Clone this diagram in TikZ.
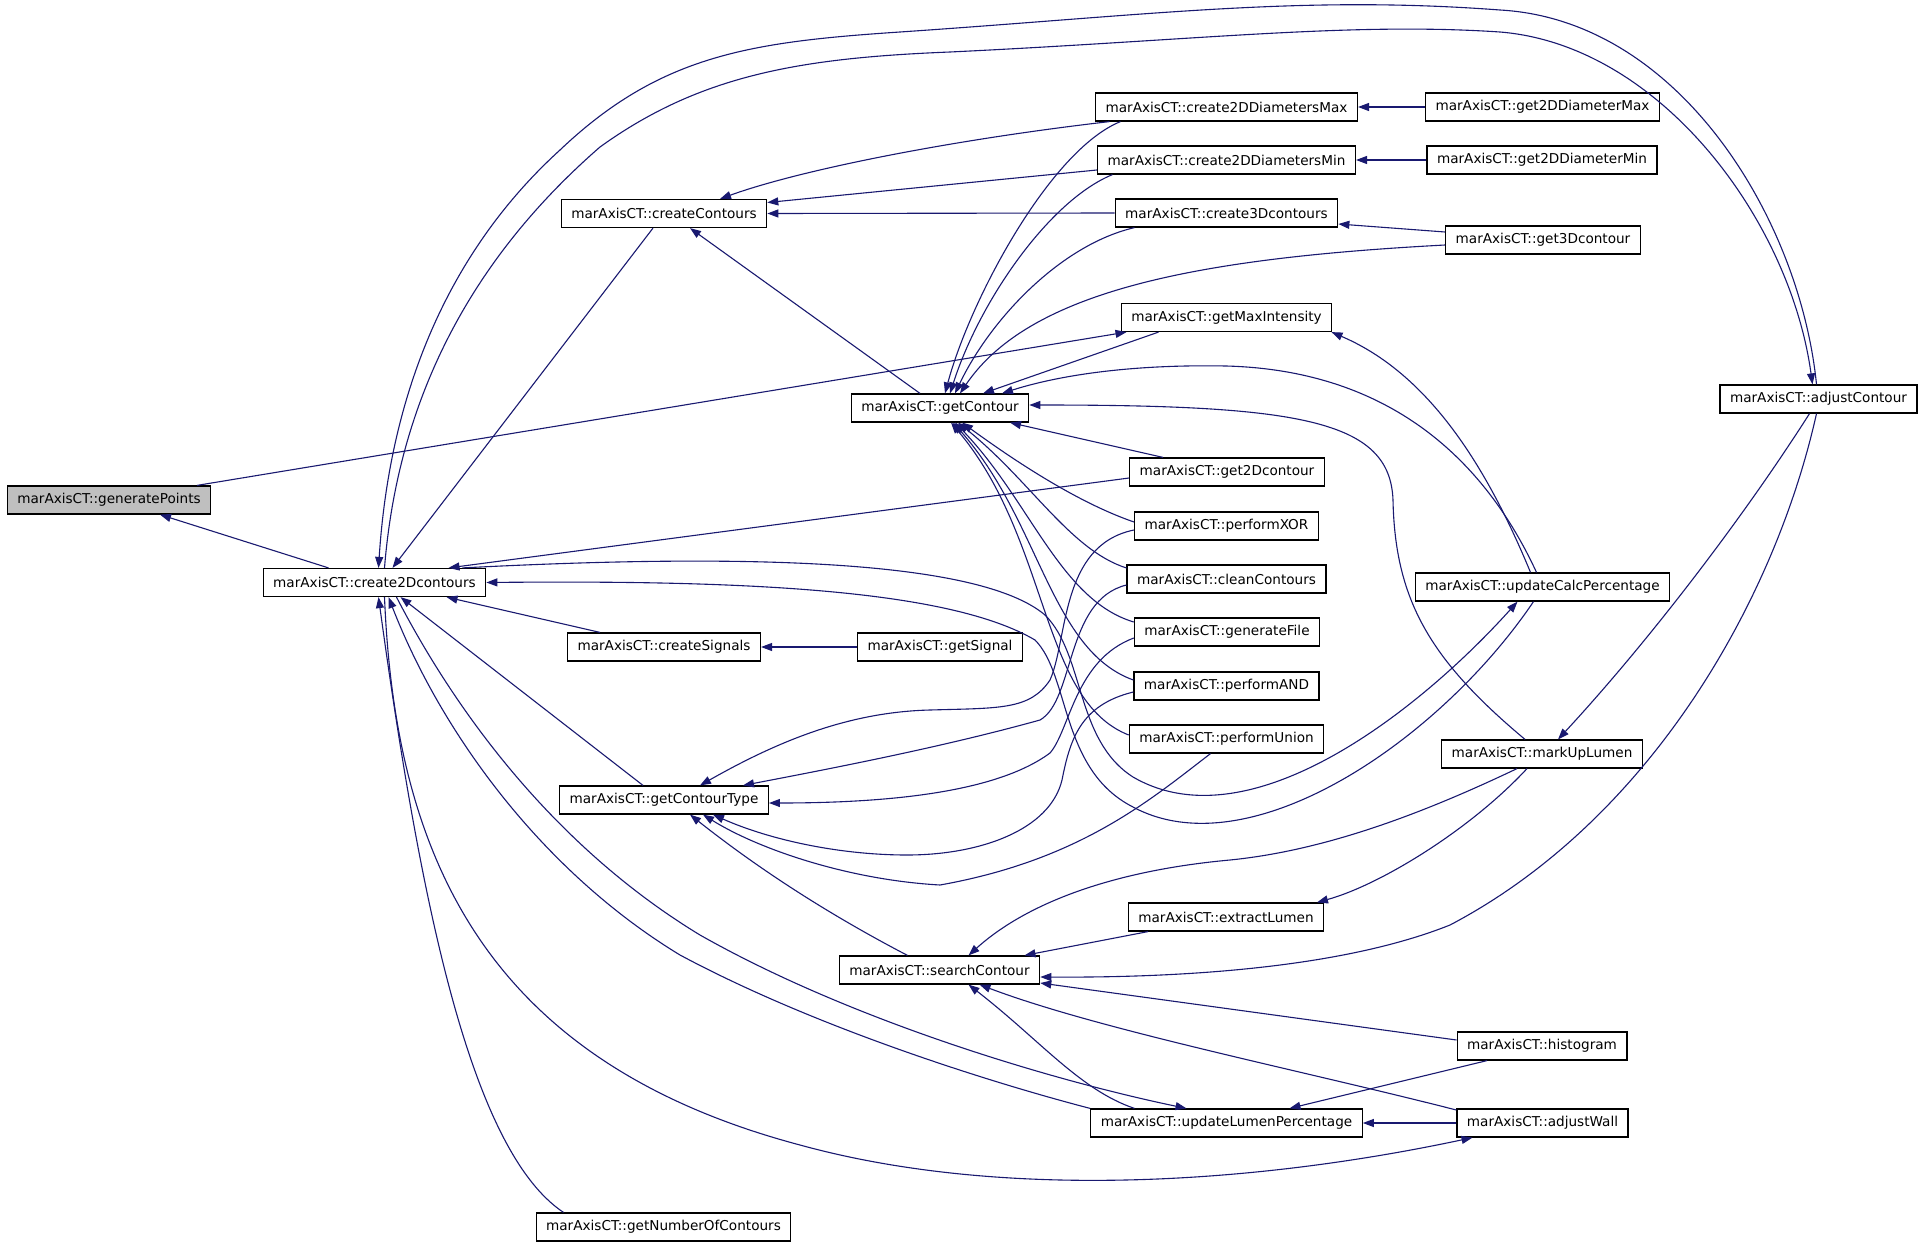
\documentclass[tikz,border=0pt]{standalone}
\usepackage{fontspec}
\setmainfont{DejaVu Sans}
\usetikzlibrary{arrows.meta}
\definecolor{edgeblue}{HTML}{191970}
\definecolor{rootgray}{HTML}{BFBFBF}

\begin{document}
\begin{tikzpicture}[x=1pt,y=-1pt,
  fn/.style={draw=black,line width=1.2pt,fill=white,minimum height=28pt,
    inner xsep=10pt,inner ysep=0pt,font=\fontsize{13.6}{16}\selectfont},
  root/.style={fn,fill=rootgray},
  call/.style={->,draw=edgeblue,line width=1.1pt,>={Triangle[length=11pt,width=8pt]}}]
  \fill[white] (0,0) rectangle (1923,1247);
  \useasboundingbox (0,0) rectangle (1923,1247);

  \node[root] (GP) at (109,500) {marAxisCT::generatePoints};
  \node[fn] (C2D) at (374.5,582.5) {marAxisCT::create2Dcontours};
  \node[fn] (CC) at (664,213.5) {marAxisCT::createContours};
  \node[fn] (CS) at (664,647) {marAxisCT::createSignals};
  \node[fn] (GCT) at (664,800) {marAxisCT::getContourType};
  \node[fn] (GNC) at (663.5,1227) {marAxisCT::getNumberOfContours};
  \node[fn] (GC) at (940,408) {marAxisCT::getContour};
  \node[fn] (GS) at (940,647) {marAxisCT::getSignal};
  \node[fn] (SC) at (939.5,970) {marAxisCT::searchContour};
  \node[fn] (C2DMAX) at (1226.5,107) {marAxisCT::create2DDiametersMax};
  \node[fn] (C2DMIN) at (1226.5,160) {marAxisCT::create2DDiametersMin};
  \node[fn] (C3D) at (1226.5,213) {marAxisCT::create3Dcontours};
  \node[fn] (GMI) at (1226.5,317.5) {marAxisCT::getMaxIntensity};
  \node[fn] (G2D) at (1227,472) {marAxisCT::get2Dcontour};
  \node[fn] (XOR) at (1226.5,526) {marAxisCT::performXOR};
  \node[fn] (CLEAN) at (1226.5,579) {marAxisCT::cleanContours};
  \node[fn] (GF) at (1227,632) {marAxisCT::generateFile};
  \node[fn] (AND) at (1226.5,686) {marAxisCT::performAND};
  \node[fn] (UNION) at (1226.5,739) {marAxisCT::performUnion};
  \node[fn] (EXL) at (1226,917) {marAxisCT::extractLumen};
  \node[fn] (ULP) at (1226.5,1123) {marAxisCT::updateLumenPercentage};
  \node[fn] (G2DMAX) at (1542.5,107) {marAxisCT::get2DDiameterMax};
  \node[fn] (G2DMIN) at (1542,160) {marAxisCT::get2DDiameterMin};
  \node[fn] (G3D) at (1543,240) {marAxisCT::get3Dcontour};
  \node[fn] (UCP) at (1542.5,587) {marAxisCT::updateCalcPercentage};
  \node[fn] (MUL) at (1542,754) {marAxisCT::markUpLumen};
  \node[fn] (HIST) at (1542,1046) {marAxisCT::histogram};
  \node[fn] (AW) at (1542.5,1123) {marAxisCT::adjustWall};
  \node[fn] (AC) at (1818.5,399) {marAxisCT::adjustContour};

  \draw[call] ([xshift=-46]C2D.north) -- ([xshift=51]GP.south);
  \draw[call] ([xshift=88]GP.north) -- ([xshift=-100]GMI.south);
  \draw[call] ([xshift=-11]CC.south) -- ([xshift=18]C2D.north);
  \draw[call] ([xshift=-2]AC.north) .. controls (1800,220) and (1680,20) .. (1500,10)
    .. controls (1300,-5) and (1150,15) .. (900,32) .. controls (750,42) and (660,55) .. (560,150)
    .. controls (450,250) and (390,390) .. ([xshift=4]C2D.north);
  \draw[call] ([xshift=10]C2D.north) .. controls (398,400) and (470,260) .. (600,147)
    .. controls (700,75) and (800,58) .. (950,52) .. controls (1200,40) and (1350,22) .. (1500,32)
    .. controls (1660,45) and (1790,220) .. ([xshift=-6]AC.north);
  \draw[call] ([yshift=-6]G2D.west) -- ([xshift=74]C2D.north);
  \draw[call] ([xshift=88]C2D.north) .. controls (750,553) and (980,560) .. (1045,615)
    .. controls (1085,655) and (1075,740) .. (1133,777) .. controls (1250,845) and (1420,710) .. ([xshift=-25]UCP.south);
  \draw[call] ([xshift=-9]UCP.south) .. controls (1440,740) and (1250,870) .. (1133,807)
    .. controls (1060,770) and (1070,675) .. (1035,640) .. controls (950,590) and (750,580) .. (C2D.east);
  \draw[call] ([xshift=-64]CS.north) -- ([xshift=72]C2D.south);
  \draw[call] (GS.west) -- (CS.east);
  \draw[call] ([xshift=-21]GCT.north) -- ([xshift=26]C2D.south);
  \draw[call] ([xshift=-100]GNC.north) .. controls (470,1150) and (420,900) .. ([xshift=4]C2D.south);
  \draw[call] ([xshift=10]C2D.south) .. controls (395,850) and (480,1060) .. (800,1145)
    .. controls (1000,1200) and (1250,1185) .. ([xshift=-70]AW.south);
  \draw[call] (ULP.north west) .. controls (1000,1085) and (820,1030) .. (680,955)
    .. controls (540,870) and (440,730) .. ([xshift=14]C2D.south);
  \draw[call] ([xshift=22]C2D.south) .. controls (460,720) and (560,850) .. (700,935)
    .. controls (850,1020) and (1050,1080) .. ([xshift=-40]ULP.north);

  \draw[call] ([xshift=-117]C2DMAX.south) .. controls (950,140) and (800,170) .. ([xshift=56]CC.north);
  \draw[call] ([yshift=-10]C2DMIN.west) -- ([yshift=11]CC.east);
  \draw[call] (C3D.west) -- (CC.east);
  \draw[call] ([xshift=-20]GC.north) -- ([xshift=26]CC.south);

  \draw[call] ([xshift=-106]C2DMAX.south) .. controls (1050,150) and (970,300) .. ([xshift=5]GC.north);
  \draw[call] ([xshift=-114]C2DMIN.south) .. controls (1050,200) and (980,300) .. ([xshift=10]GC.north);
  \draw[call] ([xshift=-92]C3D.south) .. controls (1060,245) and (990,320) .. ([xshift=15]GC.north);
  \draw[call] ([yshift=-5]G3D.west) .. controls (1200,258) and (1030,290) .. ([xshift=20]GC.north);
  \draw[call] ([xshift=-68]GMI.south) -- ([xshift=43]GC.north);
  \draw[call] ([xshift=-6]UCP.north) .. controls (1480,450) and (1380,370) .. (1226,366)
    .. controls (1120,364) and (1050,378) .. ([xshift=62]GC.north);
  \draw[call] ([xshift=-17]MUL.north) .. controls (1430,660) and (1395,600) .. (1393,500)
    .. controls (1390,420) and (1300,405) .. ([yshift=3]GC.east);
  \draw[call] ([xshift=-64]G2D.north) -- ([xshift=70]GC.south);
  \draw[call] ([yshift=4]XOR.west) .. controls (1070,500) and (1000,450) .. ([xshift=22]GC.south);
  \draw[call] ([yshift=11]CLEAN.west) .. controls (1070,550) and (1030,480) .. ([xshift=18]GC.south);
  \draw[call] ([yshift=10]GF.west) .. controls (1060,600) and (1030,500) .. ([xshift=15]GC.south);
  \draw[call] ([yshift=6]AND.west) .. controls (1050,650) and (1040,520) .. ([xshift=13]GC.south);
  \draw[call] ([yshift=4]UNION.west) .. controls (1040,700) and (1050,540) .. ([xshift=11]GC.south);

  \draw[call] ([yshift=-4]XOR.west) .. controls (1060,545) and (1068,640) .. (1050,680)
    .. controls (1030,710) and (1000,708) .. (930,710) .. controls (850,712) and (780,740) .. ([xshift=36]GCT.north);
  \draw[call] ([yshift=-6]CLEAN.west) .. controls (1065,600) and (1075,700) .. (1040,720)
    .. controls (950,745) and (850,765) .. ([xshift=79]GCT.north);
  \draw[call] ([yshift=-6]GF.west) .. controls (1075,660) and (1070,730) .. (1050,753)
    .. controls (1000,790) and (900,803) .. ([yshift=-3]GCT.east);
  \draw[call] ([yshift=-6]AND.west) .. controls (1080,705) and (1070,740) .. (1062,780)
    .. controls (1050,830) and (980,855) .. (907,855) .. controls (840,855) and (770,840) .. ([xshift=49]GCT.south);
  \draw[call] ([xshift=-16]UNION.south) .. controls (1150,800) and (1080,860) .. (940,885)
    .. controls (850,880) and (760,850) .. ([xshift=39]GCT.south);
  \draw[call] ([xshift=-32]SC.north) .. controls (830,915) and (760,870) .. ([xshift=26]GCT.south);

  \draw[call] ([xshift=-25]MUL.south) .. controls (1430,810) and (1330,850) .. (1230,860)
    .. controls (1120,870) and (1030,900) .. ([xshift=29]SC.north);
  \draw[call] ([xshift=-78]EXL.south) -- ([xshift=85]SC.north);
  \draw[call] ([xshift=-2]AC.south) .. controls (1775,600) and (1650,820) .. (1450,925)
    .. controls (1350,965) and (1200,978) .. ([yshift=-7]SC.east);
  \draw[call] ([yshift=6]HIST.west) -- ([yshift=-13]SC.east);
  \draw[call] ([xshift=-92]ULP.north) .. controls (1080,1090) and (1040,1040) .. ([xshift=29]SC.south);
  \draw[call] ([yshift=13]AW.west) .. controls (1300,1070) and (1100,1030) .. ([xshift=40]SC.south);
  \draw[call] ([xshift=-55]HIST.south) -- ([xshift=63]ULP.north);
  \draw[call] (AW.west) -- (ULP.east);
  \draw[call] ([xshift=-9]AC.south) .. controls (1745,515) and (1650,640) .. ([xshift=16]MUL.north);
  \draw[call] ([xshift=-15]MUL.south) .. controls (1470,830) and (1380,885) .. ([xshift=91]EXL.north);
  \draw[call] ([xshift=-12]UCP.north) .. controls (1480,450) and (1420,370) .. ([xshift=105]GMI.south);
  \draw[call] (G2DMAX.west) -- (C2DMAX.east);
  \draw[call] (G2DMIN.west) -- (C2DMIN.east);
  \draw[call] ([yshift=8]G3D.west) -- ([yshift=-11]C3D.east);
\end{tikzpicture}
\end{document}
